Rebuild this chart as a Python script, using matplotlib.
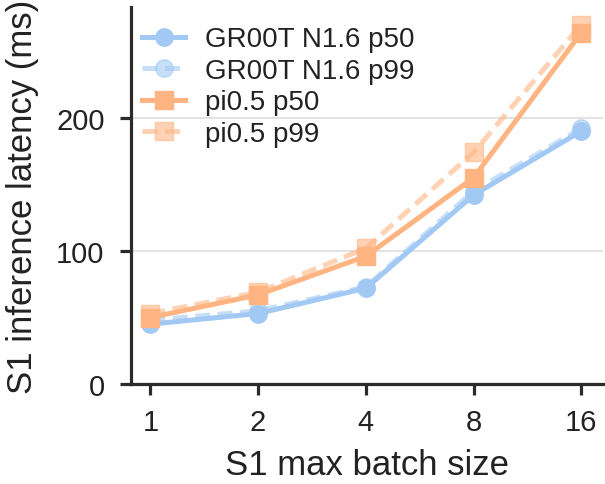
import matplotlib
matplotlib.use("Agg")
import matplotlib.pyplot as plt
import numpy as np

plt.rcParams['font.family'] = ['Liberation Sans', 'DejaVu Sans']

batch_sizes = ["1", "2", "4", "8", "16"]
groot_p50 = [45, 53, 72, 142, 190]
groot_p99 = [48, 55, 73, 145, 192]
pi05_p50 = [50, 67, 96, 155, 264]
pi05_p99 = [53, 69, 102, 174, 270]

blue = "#a1c9f4"
orange = "#ffb482"
dark = "#2b2b2b"

fig = plt.figure(figsize=(6.05, 4.85), dpi=100)
ax = fig.add_axes([0.2165, 0.206, 0.78, 0.777])
x = np.arange(len(batch_sizes))

ax.plot(x, groot_p50, color=blue, lw=3.6, marker='o', ms=12.5, label="GR00T N1.6 p50", zorder=3)
ax.plot(x, groot_p99, color=blue, lw=3.6, ls=(0, (3, 1.5)), marker='o', ms=12.5, alpha=0.6,
        label="GR00T N1.6 p99", zorder=2)
ax.plot(x, pi05_p50, color=orange, lw=3.6, marker='s', ms=12.5, label="pi0.5 p50", zorder=4)
ax.plot(x, pi05_p99, color=orange, lw=3.6, ls=(0, (3, 1.5)), marker='s', ms=12.5, alpha=0.6,
        label="pi0.5 p99", zorder=2)

ax.set_xlim(-0.18, 4.2)
ax.set_ylim(0, 283)
ax.set_xticks(x)
ax.set_xticklabels(batch_sizes)
ax.set_yticks([0, 100, 200])
ax.yaxis.grid(True, color="#e3e3e3", lw=1.5)
ax.set_axisbelow(True)

for s in ["top", "right"]:
    ax.spines[s].set_visible(False)
for s in ["left", "bottom"]:
    ax.spines[s].set_color(dark)
    ax.spines[s].set_linewidth(2.3)
ax.tick_params(axis='both', colors=dark, width=2.3, length=8, labelsize=21)
ax.tick_params(axis='x', pad=9)
ax.tick_params(axis='y', pad=11)
for lab in ax.get_xticklabels() + ax.get_yticklabels():
    lab.set_color("#222222")

ax.set_xlabel("S1 max batch size", fontsize=25, color="#222222", labelpad=9)
ax.set_ylabel("S1 inference latency (ms)", fontsize=25, color="#222222", labelpad=12)

leg = ax.legend(loc="upper left", frameon=False, fontsize=20, handlelength=1.55,
                borderaxespad=0.0, labelspacing=0.2, handletextpad=0.7,
                bbox_to_anchor=(0.0, 0.979))
for t in leg.get_texts():
    t.set_color("#222222")

fig.savefig("out.png", dpi=100)
